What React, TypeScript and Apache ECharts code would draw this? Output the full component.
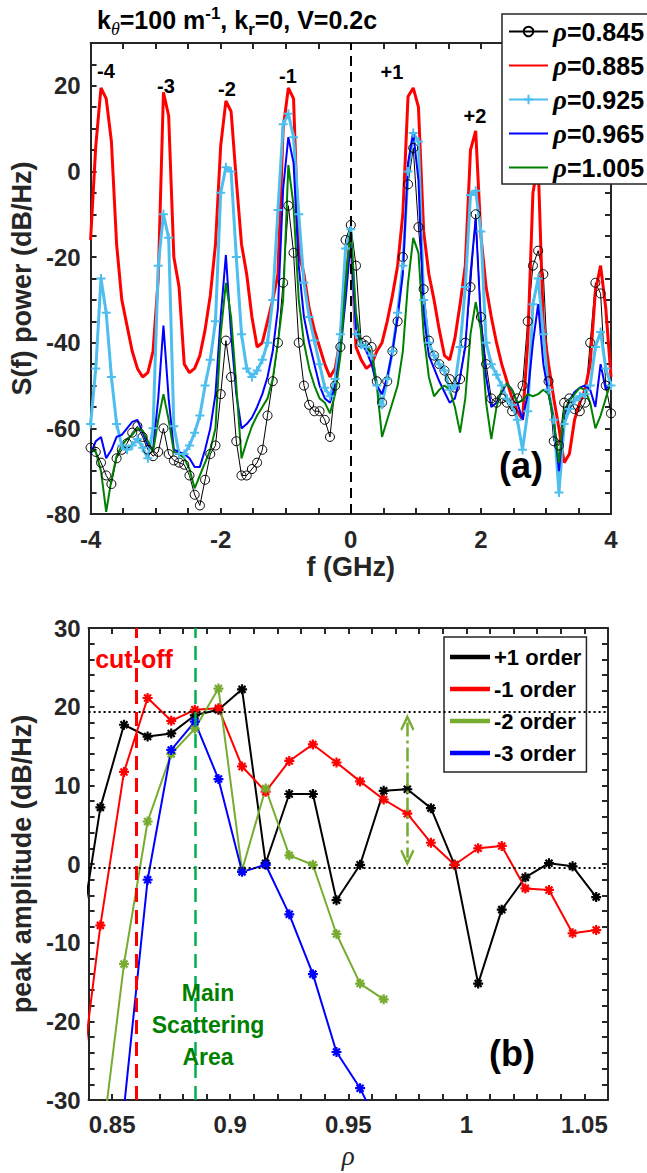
import React, { useEffect, useRef } from 'react';
import * as echarts from 'echarts';

// ---------- panel (a): spectra S(f) ----------
const freqGHz: number[] = Array.from({ length: 101 }, (_, i) => Math.round((-4 + 0.08 * i) * 100) / 100);

const rho0845 = [
  -64.5, -65.5, -68, -71, -73, -67, -65, -63.5, -61, -59.5,
  -62, -65, -66.5, -65.5, -60, -66, -67.5, -68, -68.5, -71,
  -75.5, -78, -72, -66, -64, -52, -39.5, -48, -63, -71,
  -71, -69.5, -68, -65, -57, -49, -40, -26, -8, -19,
  -40, -50, -54.5, -56, -56, -58, -62, -50, -41, -16,
  -12.5, -22, -40, -39.5, -41, -49, -54, -49, -42, -35,
  -20, -3, 5.5, -13, -27.5, -39.5, -43, -45, -46.5, -48.5,
  -50.5, -48.5, -40, -27, -10, -34, -45, -53, -54, -53,
  -54, -56, -53, -50, -35, -22, -18.5, -24, -49, -63,
  -64, -54, -53, -55.5, -56, -54, -40, -26, -28.5, -50,
  -56.5,
];
const rho0885 = [
  -16, 6, 19.5, 17, 7, -17, -30, -36, -42, -46,
  -48, -47, -42, -25, 18.5, 13, -20, -27, -45, -47,
  -46, -43, -37, -29, -17, 6, 16.5, 14, -2, -17,
  -24, -34, -41, -40, -35, -30, -24, 10, 19.5, 17,
  -19, -24, -32, -37, -41, -45, -48, -46, -39, -25,
  -15, -41, -44, -46, -45, -42, -40, -35, -29, -22,
  -10, 17.5, 19.5, 15, -14, -24, -30, -37, -43, -44,
  -39, -31, -22, 5, 9.5, -15, -27, -34, -40, -45,
  -49, -53, -56, -58, -40, -5, 2, -36, -45, -53,
  -60, -68, -66, -58, -54, -51, -45, -28, -22, -32,
  -48,
];
const rho0925 = [
  -59, -46, -25, -33, -48, -59, -64, -65, -64, -62.5,
  -64.5, -67, -60, -22, -10, -15.5, -59.5, -66, -66, -64,
  -61, -57, -50, -44, -35, -5, 1, 0, -20, -38,
  -46, -48, -46.5, -44, -40, -30, -9, 11, 13.5, 8,
  -10, -26, -34, -39.5, -45, -50.5, -52.5, -48.5, -38, -18,
  -13.5, -38, -40.5, -41, -43, -50, -54.5, -48.5, -42, -33,
  -22, 0, 9, 7, -30, -40, -43, -45, -46.5, -51,
  -50, -41, -27, -5.5, -4.5, -14, -40, -45, -47.5, -50,
  -53, -54.5, -58, -65, -56, -31, -25, -38, -51, -58,
  -75, -59, -55.5, -53.5, -52.5, -52, -50, -41, -37.5, -46,
  -50,
];
const rho0965 = [
  -66, -63, -62, -67, -65, -62, -61.5, -60, -58.5, -58,
  -61, -64, -65, -53, -36, -53, -65, -65.5, -66, -67,
  -69, -69, -65, -60, -52, -34, -19.5, -38, -52, -60,
  -59, -57.5, -55, -52, -48, -42, -32, -4, 8, 2,
  -22, -34, -40, -45, -50, -53, -54, -50, -42, -30,
  -16, -37, -40, -42, -45, -50, -52, -48, -42, -34,
  -24, 2, 9, -2, -33, -43, -46, -49, -51.5, -54,
  -53, -48, -41, -24, -11, -35, -48, -55, -54, -51.5,
  -49.5, -51, -54, -58, -52, -40, -31, -45, -52, -58,
  -70, -57, -53.5, -51.5, -50.5, -50, -51, -55, -45, -51,
  -49,
];
const rho1005 = [
  -65, -65.5, -70, -79.5, -72, -66.5, -64, -62.5, -61.5, -60,
  -60.5, -63, -65.5, -58, -52, -58, -65.5, -66, -67, -69.5,
  -74, -71, -68, -65, -60, -38, -26, -34, -50, -67,
  -63, -59.5, -57, -55, -53, -48.5, -40, -30, 1.5, -8,
  -30, -40, -46, -50, -53, -54, -56.5, -52, -43, -26,
  -13.5, -33, -41, -40.5, -42.5, -50, -62, -58, -54, -50,
  -42, -26, -15.5, -19, -38, -48, -52.5, -51, -50, -51,
  -55, -61, -53, -38, -30.5, -37, -54, -62.5, -55, -51,
  -49.5, -51, -54, -53.5, -52, -52.5, -52, -51, -52, -58,
  -68, -56, -53.5, -52, -50.5, -51, -54, -60, -57, -53,
  -49,
];
const spectrumNames = ['ρ=0.845', 'ρ=0.885', 'ρ=0.925', 'ρ=0.965', 'ρ=1.005'];
const orderLabels = ['-4', '-3', '-2', '-1', '+1', '+2'];

// ---------- panel (b): peak amplitude vs rho ----------
const rhoValues = [0.835, 0.845, 0.855, 0.865, 0.875, 0.885, 0.895, 0.905, 0.915, 0.925, 0.935, 0.945,
  0.955, 0.965, 0.975, 0.985, 0.995, 1.005, 1.015, 1.025, 1.035, 1.045, 1.055];
const orderPlus1 = [-12, 7.2, 17.7, 16.2, 16.6, 18.9, 19.6, 22.2, 0.1, 8.9, 8.9, -4.6,
  -0.1, 9.3, 9.5, 7.1, -0.1, -15.2, -5.8, -1.7, 0.1, -0.3, -4.2];
const orderMinus1 = [-32, -7.8, 11.7, 21.1, 18.2, 19.6, 19.8, 12.4, 9.2, 13.1, 15.2, 12.9,
  10.5, 8.2, 6.4, 2.7, -0.1, 2.0, 2.3, -3.1, -3.3, -8.8, -8.4];
const orderMinus2 = [null, -37, -12.7, 5.4, 14.0, 17.2, 22.3, -0.8, 9.6, 1.1, -0.1, -8.9,
  -15.2, -17.2, null, null, null, null, null, null, null, null, null];
const orderMinus3 = [null, null, -31, -2.0, 14.5, 18.1, 10.8, -1.0, -0.1, -6.4, -14, -23.9,
  -28.5, -34.7, null, null, null, null, null, null, null, null, null];
const orderNames = ['+1 order', '-1 order', '-2 order', '-3 order'];

const F = 'Liberation Sans, Arial, Helvetica, sans-serif';
const AX = '#262626';
const PLUS = 'path://M0,-10L0,10M-10,0L10,0';
const STAR = 'path://M0,-10L0,10M-10,0L10,0M-7,-7L7,7M-7,7L7,-7';
const ARROW = 'path://M0,0L7,15L5.5,17L0,6L-5.5,17L-7,15Z';

const lbl = (size: number) => ({ fontSize: size, fontWeight: 'bold' as const, color: AX, fontFamily: F });

function mkAxis(extra: any, labelFmt: ((v: number) => string) | null, pos: string) {
  return {
    type: 'value',
    position: pos,
    axisLine: { show: true, onZero: false, lineStyle: { color: AX, width: 2 } },
    axisTick: { show: true, inside: true, length: 6, lineStyle: { color: AX, width: 2 } },
    axisLabel: labelFmt ? { ...lbl(24), formatter: labelFmt } : { show: false },
    splitLine: { show: false },
    ...extra,
  };
}

export default function App() {
  const ref = useRef<HTMLDivElement>(null);
  useEffect(() => {
    document.body.style.margin = '0';
    const chart = echarts.init(ref.current!, null, { renderer: 'svg' });

    const fTop = (v: number) => (Math.abs(v % 2) < 1e-9 ? String(v) : '');
    const yTop = (v: number) => (v % 20 === 0 && v <= 20 ? String(v) : '');
    const xBot = (v: number) => { const r = Math.round(v * 100); return r % 5 === 0 ? String(r / 100) : ''; };
    const yBot = (v: number) => (Math.round(v) % 10 === 0 ? String(v) : '');

    const topStyles = [
      { c: '#000000', w: 1, sym: 'circle', size: 9, item: { color: 'rgba(0,0,0,0)', borderColor: '#000', borderWidth: 1 } },
      { c: '#FF0000', w: 3, sym: 'none', size: 0, item: { color: '#FF0000' } },
      { c: '#4DBEEE', w: 3, sym: PLUS, size: 9, item: { color: '#4DBEEE', borderColor: '#4DBEEE', borderWidth: 2 } },
      { c: '#0000FF', w: 2, sym: 'none', size: 0, item: { color: '#0000FF' } },
      { c: '#008000', w: 2, sym: 'none', size: 0, item: { color: '#008000' } },
    ];
    const topData = [rho0845, rho0885, rho0925, rho0965, rho1005];
    const topSeries: any[] = topData.map((arr, k) => ({
      type: 'line', name: spectrumNames[k], xAxisIndex: 0, yAxisIndex: 0,
      data: freqGHz.map((f, i) => [f, arr[i]]),
      symbol: topStyles[k].sym, symbolSize: topStyles[k].size, showSymbol: topStyles[k].sym !== 'none',
      lineStyle: { color: topStyles[k].c, width: topStyles[k].w },
      itemStyle: topStyles[k].item,
      silent: true,
    }));
    topSeries[0].markLine = {
      silent: true, symbol: ['none', 'none'], label: { show: false }, precision: 4,
      lineStyle: { color: '#000', type: [10, 6], width: 2 },
      data: [{ xAxis: 0 }],
    };

    const botColors = ['#000000', '#FF0000', '#77AC30', '#0000FF'];
    const botData = [orderPlus1, orderMinus1, orderMinus2, orderMinus3];
    const botSeries: any[] = botData.map((arr, k) => ({
      type: 'line', name: orderNames[k], xAxisIndex: 2, yAxisIndex: 2,
      data: rhoValues.map((r, i) => [r, arr[i]]).filter((p) => p[1] !== null),
      symbol: STAR, symbolSize: 10,
      lineStyle: { color: botColors[k], width: 2 },
      itemStyle: { color: botColors[k], borderColor: botColors[k], borderWidth: 2.2 },
      silent: true,
    }));
    botSeries[0].markLine = {
      silent: true, symbol: ['none', 'none'], label: { show: false }, precision: 4,
      data: [
        { yAxis: 19.4, lineStyle: { color: '#000', type: [2, 3], width: 2 } },
        { yAxis: -0.5, lineStyle: { color: '#000', type: [2, 3], width: 2 } },
        { xAxis: 0.86, lineStyle: { color: '#FF0000', type: [14, 8], width: 3 } },
        { xAxis: 0.885, lineStyle: { color: '#00B050', type: [14, 8], width: 2.5 } },
      ],
    };
    botSeries[2].markLine = {
      silent: true, symbol: [ARROW, ARROW], symbolSize: [14, 17], label: { show: false }, precision: 4,
      lineStyle: { color: '#77AC30', type: [14, 4, 3, 4], width: 2.5 },
      itemStyle: { color: '#77AC30' },
      data: [[{ coord: [0.975, 18.0] }, { coord: [0.975, 0.8] }]],
    };

    const txt = (text: string, x: number, y: number, size: number, color = '#000', extra: any = {}) => ({
      type: 'text', x, y, z: 100, silent: true,
      style: { text, fill: color, fontSize: size, fontWeight: 'bold', fontFamily: F, align: 'center', verticalAlign: 'middle', ...extra },
    });
    const orderPos = [[106, 71], [166, 86], [227, 89], [288, 76], [392, 72], [475, 116]];

    chart.setOption({
      animation: false,
      backgroundColor: '#fff',
      grid: [
        { left: 90, top: 43, width: 521, height: 471 },
        { left: 87, top: 628, width: 521, height: 472 },
      ],
      xAxis: [
        mkAxis({ gridIndex: 0, min: -4, max: 4, interval: 0.5, name: 'f (GHz)', nameLocation: 'middle', nameGap: 39,
          nameTextStyle: lbl(27), axisLabel: { ...lbl(24), formatter: fTop, margin: 13 } }, fTop, 'bottom'),
        mkAxis({ gridIndex: 0, min: -4, max: 4, interval: 0.5 }, null, 'top'),
        mkAxis({ gridIndex: 1, min: 0.84, max: 1.06, interval: 0.01, name: 'ρ', nameLocation: 'middle', nameGap: 42,
          nameTextStyle: { fontSize: 27, fontStyle: 'italic', fontFamily: 'Liberation Serif, serif', color: AX },
          axisLabel: { ...lbl(24), formatter: xBot, margin: 12 } }, xBot, 'bottom'),
        mkAxis({ gridIndex: 1, min: 0.84, max: 1.06, interval: 0.01 }, null, 'top'),
      ],
      yAxis: [
        mkAxis({ gridIndex: 0, min: -80, max: 30, interval: 5, name: 'S(f) power (dB/Hz)', nameLocation: 'middle', nameGap: 52,
          nameTextStyle: lbl(27), axisLabel: { ...lbl(24), formatter: yTop, margin: 10 } }, yTop, 'left'),
        mkAxis({ gridIndex: 0, min: -80, max: 30, interval: 5 }, null, 'right'),
        mkAxis({ gridIndex: 1, min: -30, max: 30, interval: 2, name: 'peak amplitude (dB/Hz)', nameLocation: 'middle', nameGap: 50,
          nameTextStyle: lbl(27), axisLabel: { ...lbl(24), formatter: yBot, margin: 8 } }, yBot, 'left'),
        mkAxis({ gridIndex: 1, min: -30, max: 30, interval: 2 }, null, 'right'),
      ],
      legend: [
        {
          data: spectrumNames.map((n, k) => (topStyles[k].sym === 'none' ? { name: n, itemStyle: { opacity: 0 } } : { name: n })),
          left: 502, top: 14, orient: 'vertical', selectedMode: false,
          padding: [4, 9, 3, 6], itemGap: 7, itemWidth: 39, itemHeight: 12,
          backgroundColor: '#fff', borderColor: AX, borderWidth: 1.5, borderRadius: 0,
          formatter: (n: string) => `{i|ρ}{b|${n.slice(1)}}`,
          textStyle: {
            fontSize: 25, fontWeight: 'bold', color: '#000', fontFamily: F, lineHeight: 26,
            rich: {
              i: { fontSize: 27, fontStyle: 'italic', fontFamily: 'Liberation Serif, serif', color: '#000', lineHeight: 26 },
              b: { fontSize: 25, fontWeight: 'bold', fontFamily: F, color: '#000', lineHeight: 26 },
            },
          },
        },
        {
          data: orderNames, left: 444, top: 637, orient: 'vertical', selectedMode: false,
          padding: [8, 5, 7, 6], itemGap: 8, itemWidth: 38, itemHeight: 2.5, icon: 'rect',
          backgroundColor: '#fff', borderColor: AX, borderWidth: 1.5, borderRadius: 0,
          textStyle: { fontSize: 22, fontWeight: 'bold', color: '#000', fontFamily: F, lineHeight: 24 },
        },
      ],
      graphic: [
        {
          type: 'text', x: 97, y: 20, z: 100, silent: true,
          style: {
            text: '{m|k}{t|θ}{m|=100 m}{p|-1}{m|, k}{s|r}{m|=0, V=0.2c}',
            align: 'left', verticalAlign: 'middle', fill: '#000',
            rich: {
              m: { fontSize: 25, fontWeight: 'bold', fontFamily: F, fill: '#000', color: '#000' },
              t: { fontSize: 18, fontStyle: 'italic', fontFamily: 'Liberation Serif, serif', fill: '#000', color: '#000', padding: [18, 0, 0, 0] },
              s: { fontSize: 17, fontWeight: 'bold', fontFamily: F, fill: '#000', color: '#000', padding: [18, 0, 0, 0] },
              p: { fontSize: 17, fontWeight: 'bold', fontFamily: F, fill: '#000', color: '#000', padding: [0, 0, 14, 0] },
            },
          },
        },
        ...orderLabels.map((t, k) => txt(t, orderPos[k][0], orderPos[k][1], 20)),
        txt('(a)', 521, 465, 36),
        txt('cut-off', 134, 659, 25, '#FF0000'),
        txt('Main\nScattering\nArea', 208, 1025, 23, '#008000', { lineHeight: 32 }),
        txt('(b)', 512, 1053, 36),
      ],
      series: [...topSeries, ...botSeries],
    });
    return () => chart.dispose();
  }, []);
  return <div ref={ref} style={{ width: 647, height: 1173 }} />;
}
